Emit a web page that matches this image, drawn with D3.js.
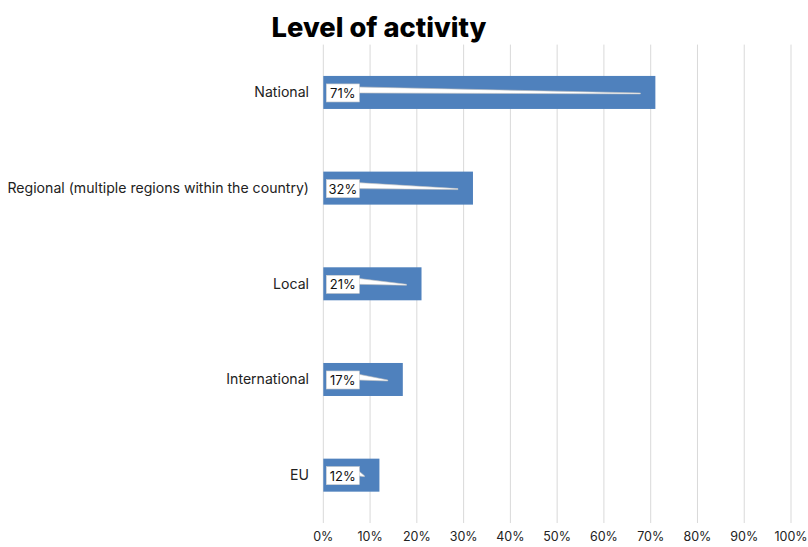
<!DOCTYPE html>
<html>
<head>
<meta charset="utf-8">
<script src="https://cdn.jsdelivr.net/npm/d3@7"></script>
<style>
  html, body { margin: 0; padding: 0; background: #fff; }
  svg { display: block; font-family: Inter, "Noto Sans", sans-serif; }
</style>
</head>
<body>
<svg id="chart" width="808" height="547"></svg>
<script>
// Share of respondents by level of activity
const categories = ["National", "Regional (multiple regions within the country)", "Local", "International", "EU"];
const values = [71, 32, 21, 17, 12];
const tickValues = [0, 10, 20, 30, 40, 50, 60, 70, 80, 90, 100];

const svg = d3.select("#chart");
const margin = { left: 323.3, right: 17, top: 44.6, bottom: 24 };
const W = 808, H = 547;

const x = d3.scaleLinear().domain([0, 100]).range([margin.left, W - margin.right]);
const y = d3.scaleBand().domain(categories).range([margin.top, H - margin.bottom]).paddingInner(0.655).paddingOuter(0.3275);

// Title
svg.append("text")
  .attr("x", 379).attr("y", 37)
  .attr("text-anchor", "middle")
  .attr("font-size", 27.3).attr("font-weight", 800)
  .attr("fill", "#000")
  .text("Level of activity");

// Vertical gridlines
svg.append("g").selectAll("line").data(tickValues).join("line")
  .attr("x1", d => x(d)).attr("x2", d => x(d))
  .attr("y1", margin.top).attr("y2", H - margin.bottom)
  .attr("stroke", "#d9d9d9").attr("stroke-width", 1);

// Bars
svg.append("g").selectAll("rect").data(categories).join("rect")
  .attr("x", x(0))
  .attr("y", d => y(d))
  .attr("width", (d, i) => x(values[i]) - x(0))
  .attr("height", y.bandwidth())
  .attr("fill", "#4f81bd");

// Category labels
svg.append("g").selectAll("text").data(categories).join("text")
  .attr("x", 309)
  .attr("y", d => y(d) + y.bandwidth() / 2)
  .attr("dy", "0.35em")
  .attr("text-anchor", "end")
  .attr("font-size", 14.1).attr("fill", "#222")
  .text(d => d);

// Callout data labels
const labels = svg.append("g");
categories.forEach((c, i) => {
  const cy = y(c) + y.bandwidth() / 2;
  const bx = x(0) + 3, bw = 33, bh = 18, by = cy - bh / 2 + 0.5;
  const tipX = Math.max(bx + bw + 4, x(values[i]) - 15);
  // pointer wedge
  labels.append("path")
    .attr("d", `M${bx + bw - 2},${by + 3} L${tipX},${cy + 0.5} L${tipX},${cy + 1.5} L${bx + bw - 2},${by + 9} Z`)
    .attr("fill", "#fff").attr("stroke", "#bfbfbf").attr("stroke-width", 0.6);
  labels.append("rect")
    .attr("x", bx).attr("y", by).attr("width", bw).attr("height", bh)
    .attr("fill", "#fff").attr("stroke", "#d0d0d0").attr("stroke-width", 0.6);
  labels.append("text")
    .attr("x", bx + bw / 2).attr("y", cy + 1)
    .attr("dy", "0.35em").attr("text-anchor", "middle")
    .attr("font-size", 13).attr("fill", "#111")
    .text(values[i] + "%");
});

// X axis tick labels
svg.append("g").selectAll("text").data(tickValues).join("text")
  .attr("x", d => x(d)).attr("y", 541)
  .attr("text-anchor", "middle")
  .attr("font-size", 12.5).attr("fill", "#222")
  .text(d => d + "%");
</script>
</body>
</html>
